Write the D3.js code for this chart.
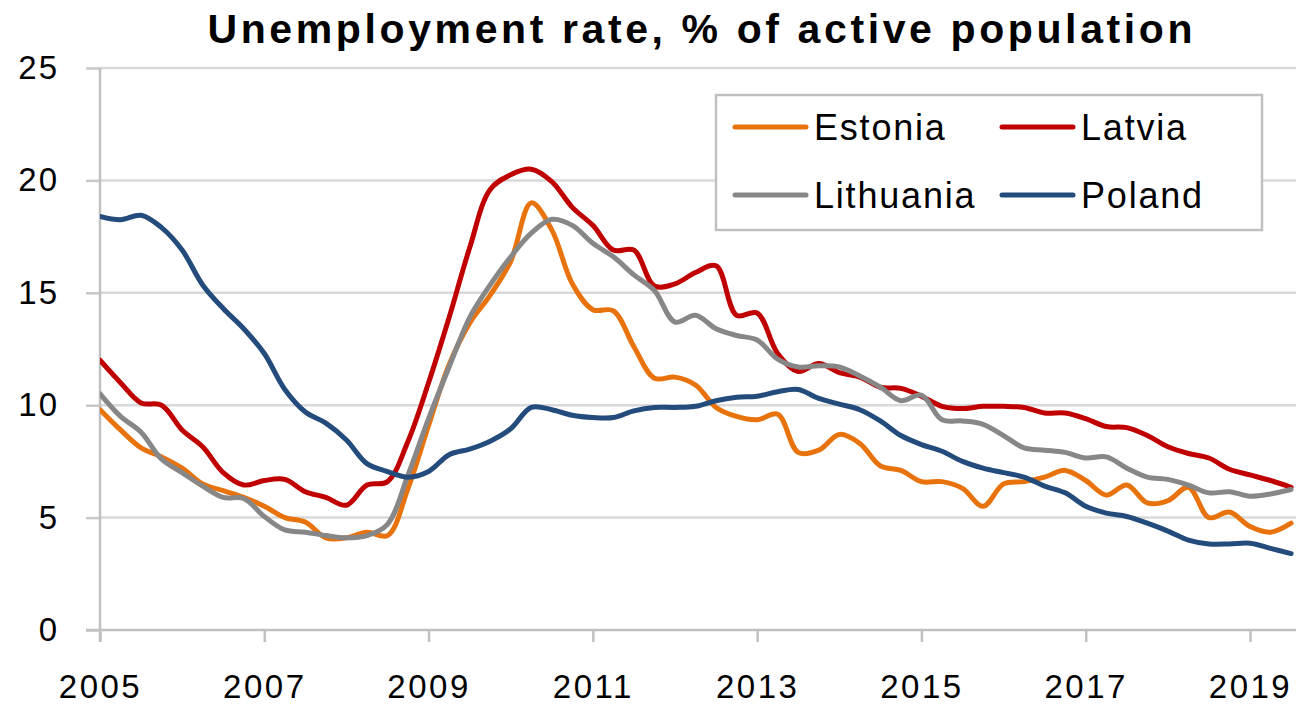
<!DOCTYPE html>
<html>
<head>
<meta charset="utf-8">
<script src="https://cdn.jsdelivr.net/npm/d3@7"></script>
<style>
  html, body { margin: 0; padding: 0; background: #fff; }
  svg { display: block; font-family: "Liberation Sans", Arial, sans-serif; }
</style>
</head>
<body>
<div id="chart"></div>
<script>
// quarterly values, 2005Q1 .. 2019Q3
const startYear = 2005;
const estonia = [9.8, 8.9, 8.1, 7.7, 7.2, 6.5, 6.2, 5.9, 5.5, 5.0, 4.8, 4.1,
    4.1, 4.35, 4.2, 6.3, 9.1, 11.8, 13.65, 14.9, 16.4, 19.0, 17.8, 15.4,
    14.25, 14.2, 12.6, 11.2, 11.25, 10.9, 9.9, 9.5, 9.35, 9.6, 7.9, 8.0,
    8.7, 8.3, 7.3, 7.1, 6.6, 6.6, 6.3, 5.5, 6.5, 6.6, 6.8, 7.1,
    6.65, 6.0, 6.45, 5.65, 5.75, 6.35, 5.0, 5.25, 4.6, 4.35, 4.75];
const latvia = [12.0, 11.0, 10.1, 10.0, 8.9, 8.15, 7.0, 6.45, 6.65, 6.7, 6.15, 5.9,
    5.55, 6.45, 6.6, 8.4, 11.0, 13.9, 17.0, 19.6, 20.25, 20.5, 19.95, 18.8,
    18.0, 16.9, 16.9, 15.3, 15.4, 15.9, 16.2, 14.0, 14.1, 12.3, 11.5, 11.85,
    11.45, 11.25, 10.8, 10.75, 10.4, 9.95, 9.85, 9.95, 9.95, 9.9, 9.65, 9.65,
    9.4, 9.05, 9.0, 8.65, 8.15, 7.85, 7.65, 7.15, 6.9, 6.65, 6.35];
const lithuania = [10.5, 9.5, 8.8, 7.6, 7.0, 6.4, 5.9, 5.85, 5.05, 4.45, 4.35, 4.2,
    4.1, 4.2, 4.7, 6.9, 9.4, 11.7, 13.9, 15.35, 16.6, 17.65, 18.27, 18.0,
    17.2, 16.6, 15.8, 15.1, 13.7, 14.0, 13.4, 13.1, 12.9, 12.05, 11.7, 11.75,
    11.7, 11.3, 10.8, 10.2, 10.45, 9.35, 9.3, 9.15, 8.65, 8.1, 8.0, 7.9,
    7.65, 7.7, 7.2, 6.8, 6.7, 6.45, 6.1, 6.15, 5.95, 6.05, 6.25];
const poland = [18.4, 18.25, 18.45, 17.9, 16.9, 15.35, 14.3, 13.4, 12.3, 10.7, 9.7, 9.2,
    8.45, 7.4, 7.05, 6.8, 7.05, 7.8, 8.05, 8.4, 8.95, 9.9, 9.8, 9.55,
    9.45, 9.45, 9.75, 9.9, 9.9, 9.95, 10.2, 10.35, 10.4, 10.6, 10.7, 10.3,
    10.05, 9.8, 9.3, 8.65, 8.25, 7.95, 7.5, 7.2, 7.0, 6.8, 6.4, 6.1,
    5.5, 5.2, 5.05, 4.75, 4.4, 4.0, 3.83, 3.83, 3.86, 3.63, 3.4];

const seriesNames = ["Estonia", "Latvia", "Lithuania", "Poland"];
const seriesColors = ["#E8720C", "#C00000", "#878787", "#234B7C"];
const yTicks = [0, 5, 10, 15, 20, 25];
const xTicks = [2005, 2007, 2009, 2011, 2013, 2015, 2017, 2019];
const title = "Unemployment rate, % of active population";

const width = 1296, height = 704;
const margin = {top: 68, right: 0, bottom: 74, left: 100};

const svg = d3.select("#chart").append("svg")
    .attr("width", width)
    .attr("height", height);

svg.append("rect").attr("width", width).attr("height", height).attr("fill", "#fff");

const x = d3.scaleLinear()
    .domain([2005, 2019.56])
    .range([margin.left, width - margin.right]);
const y = d3.scaleLinear()
    .domain([0, 25])
    .range([height - margin.bottom, margin.top]);

// gridlines
svg.append("g")
    .selectAll("line")
    .data(yTicks.filter(d => d > 0))
    .join("line")
    .attr("x1", x(2005)).attr("x2", width)
    .attr("y1", d => y(d)).attr("y2", d => y(d))
    .attr("stroke", "#d9d9d9")
    .attr("stroke-width", 2.5);

// y axis
const yAxis = svg.append("g")
    .attr("transform", `translate(${x(2005)},0)`)
    .call(d3.axisLeft(y).tickValues(yTicks).tickSize(14).tickPadding(27).tickSizeOuter(0));
yAxis.select(".domain").remove();
yAxis.selectAll(".tick line").attr("stroke", "#c8c8c8").attr("stroke-width", 2.5);
yAxis.selectAll(".tick text")
    .attr("font-size", 33)
    .attr("letter-spacing", 2)
    .attr("fill", "#000")
    .attr("font-family", "Liberation Sans, Arial, sans-serif");
svg.append("line")
    .attr("x1", x(2005)).attr("x2", x(2005))
    .attr("y1", y(25)).attr("y2", y(0) + 12)
    .attr("stroke", "#c0c0c0").attr("stroke-width", 2.5);

// x axis
const xAxis = svg.append("g")
    .attr("transform", `translate(0,${y(0)})`)
    .call(d3.axisBottom(x).tickValues(xTicks).tickFormat(d3.format("d"))
        .tickSize(12).tickPadding(33).tickSizeOuter(0));
xAxis.select(".domain").remove();
xAxis.selectAll(".tick line").attr("stroke", "#c0c0c0").attr("stroke-width", 2.5);
xAxis.selectAll(".tick text")
    .attr("font-size", 33)
    .attr("letter-spacing", 2.5)
    .attr("fill", "#000")
    .attr("font-family", "Liberation Sans, Arial, sans-serif");
svg.append("line")
    .attr("x1", x(2005) - 14).attr("x2", width)
    .attr("y1", y(0)).attr("y2", y(0))
    .attr("stroke", "#c0c0c0").attr("stroke-width", 2.5);

// lines
svg.append("clipPath").attr("id", "plotClip")
    .append("rect")
    .attr("x", x(2005)).attr("y", 0)
    .attr("width", width - x(2005)).attr("height", height);

const line = d3.line()
    .x((d, i) => x(startYear + i / 4))
    .y(d => y(d))
    .curve(d3.curveCatmullRom.alpha(0.5));

const allSeries = [estonia, latvia, lithuania, poland];
svg.append("g")
    .attr("clip-path", "url(#plotClip)")
    .selectAll("path")
    .data(allSeries)
    .join("path")
    .attr("d", line)
    .attr("fill", "none")
    .attr("stroke", (d, i) => seriesColors[i])
    .attr("stroke-width", 5)
    .attr("stroke-linejoin", "round")
    .attr("stroke-linecap", "round");

// legend
const legend = svg.append("g");
legend.append("rect")
    .attr("x", 716).attr("y", 95)
    .attr("width", 546).attr("height", 135)
    .attr("fill", "#fff")
    .attr("stroke", "#c0c0c0")
    .attr("stroke-width", 2.5);

const legendPos = [[735, 127], [1002, 127], [735, 195], [1002, 195]];
seriesNames.forEach((name, i) => {
    const [lx, ly] = legendPos[i];
    legend.append("line")
        .attr("x1", lx).attr("x2", lx + 71)
        .attr("y1", ly).attr("y2", ly)
        .attr("stroke", seriesColors[i])
        .attr("stroke-width", 5)
        .attr("stroke-linecap", "round");
    legend.append("text")
        .attr("x", lx + 79).attr("y", ly + 13)
        .attr("font-size", 36)
        .attr("letter-spacing", 1.8)
        .attr("fill", "#000")
        .text(name);
});

// title
svg.append("text")
    .attr("x", 700).attr("y", 43)
    .attr("text-anchor", "middle")
    .attr("font-size", 41)
    .attr("font-weight", "bold")
    .attr("textLength", 985)
    .attr("lengthAdjust", "spacing")
    .attr("fill", "#000")
    .text(title);
</script>
</body>
</html>
